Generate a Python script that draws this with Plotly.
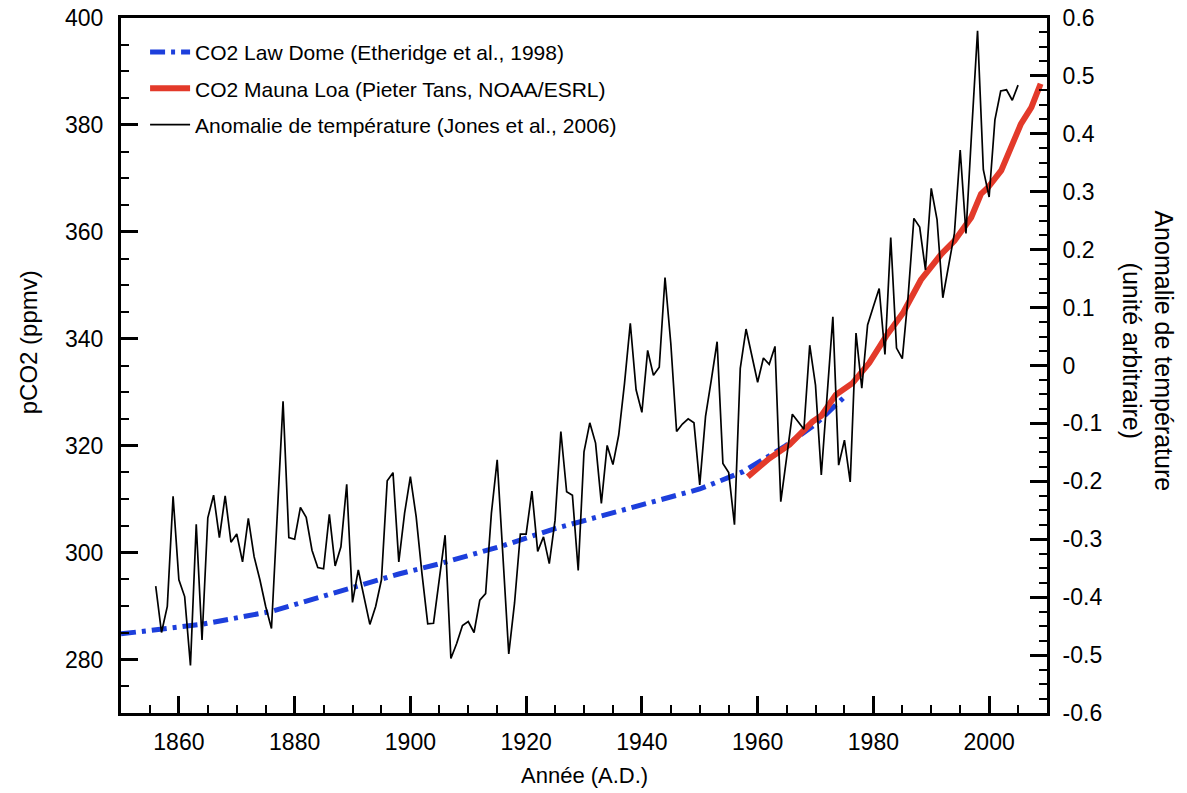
import plotly.graph_objects as go
from plotly.subplots import make_subplots

# ---- Data ----
# Law Dome CO2 (ppmv)
law_years = [1850, 1864, 1876, 1890, 1893, 1898, 1905, 1916, 1925, 1933, 1937.5, 1950, 1957.4, 1964.6, 1970, 1973.6, 1975]
law_co2 = [284.8, 286.6, 289.0, 293.3, 294.3, 296.0, 297.9, 301.3, 304.5, 307.0, 308.2, 311.9, 315.1, 319.8, 324.0, 327.7, 329.1]

# Mauna Loa CO2 (ppmv)
ml_years = [1958.3, 1962.0, 1965.5, 1969.5, 1971.0, 1973.5, 1976.4, 1979.3, 1982.2, 1985.1, 1988.2,
            1991.7, 1994.0, 1996.9, 1998.6, 1999.8, 2002.1, 2003.8, 2005.5, 2007.3, 2008.9]
ml_co2 = [314.2, 317.6, 320.2, 324.5, 325.6, 329.5, 331.7, 335.5, 340.5, 344.8, 351.0,
          355.8, 358.3, 362.7, 367.1, 368.3, 371.5, 375.8, 380.2, 383.3, 387.7]

# Temperature anomaly (arbitrary units), 1856-2005
temp_years = list(range(1856, 2006))
temp_anom = [
    -0.381, -0.461, -0.416, -0.226, -0.370, -0.399, -0.518, -0.274, -0.474, -0.263,  # 1856-1865
    -0.224, -0.297, -0.225, -0.305, -0.291, -0.339, -0.264, -0.330, -0.370, -0.416,  # 1866-1875
    -0.454, -0.250, -0.062, -0.297, -0.300, -0.245, -0.262, -0.319, -0.349, -0.351,  # 1876-1885
    -0.257, -0.346, -0.313, -0.205, -0.409, -0.353, -0.402, -0.447, -0.416, -0.370,  # 1886-1895
    -0.199, -0.185, -0.339, -0.255, -0.192, -0.261, -0.359, -0.446, -0.445, -0.370,  # 1896-1905
    -0.293, -0.506, -0.480, -0.449, -0.442, -0.461, -0.405, -0.394, -0.255, -0.163,  # 1906-1915
    -0.336, -0.498, -0.410, -0.291, -0.291, -0.217, -0.321, -0.296, -0.342, -0.267,  # 1916-1925
    -0.114, -0.218, -0.224, -0.354, -0.149, -0.099, -0.134, -0.238, -0.138, -0.171,  # 1926-1935
    -0.120, -0.031, 0.073, -0.042, -0.081, 0.026, -0.017, -0.003, 0.152, 0.038,      # 1936-1945
    -0.114, -0.101, -0.092, -0.099, -0.206, -0.088, -0.025, 0.041, -0.169, -0.185,   # 1946-1955
    -0.275, -0.005, 0.063, 0.016, -0.029, 0.013, 0.002, 0.033, -0.235, -0.160,       # 1956-1965
    -0.084, -0.097, -0.110, 0.035, -0.034, -0.189, -0.054, 0.084, -0.172, -0.129,    # 1966-1975
    -0.201, 0.056, -0.039, 0.070, 0.102, 0.133, 0.019, 0.221, 0.030, 0.012,          # 1976-1985
    0.119, 0.254, 0.239, 0.165, 0.306, 0.252, 0.117, 0.171, 0.228, 0.372,            # 1986-1995
    0.228, 0.407, 0.578, 0.338, 0.291, 0.424, 0.474, 0.476, 0.458, 0.484,            # 1996-2005
]

x_ticks = [1860, 1880, 1900, 1920, 1940, 1960, 1980, 2000]
y1_ticks = [280, 300, 320, 340, 360, 380, 400]
y2_ticks = [-0.6, -0.5, -0.4, -0.3, -0.2, -0.1, 0, 0.1, 0.2, 0.3, 0.4, 0.5, 0.6]
y2_text = ["-0.6", "-0.5", "-0.4", "-0.3", "-0.2", "-0.1", "0", "0.1", "0.2", "0.3", "0.4", "0.5", "0.6"]

FONT = "Liberation Sans, Arial, Helvetica, sans-serif"
BLUE = "#1d3fdc"
RED = "#e33a2a"

fig = make_subplots(specs=[[{"secondary_y": True}]])

fig.add_trace(go.Scatter(x=law_years, y=law_co2, mode="lines",
                         name="CO2 Law Dome (Etheridge et al., 1998)", legendgroup="a",
                         line=dict(color=BLUE, width=5, dash="15px,6px,4px,6px")),
              secondary_y=False)
fig.add_trace(go.Scatter(x=ml_years, y=ml_co2, mode="lines",
                         name="CO2 Mauna Loa (Pieter Tans, NOAA/ESRL)", legendgroup="b",
                         line=dict(color=RED, width=6)),
              secondary_y=False)
fig.add_trace(go.Scatter(x=temp_years, y=temp_anom, mode="lines",
                         name="Anomalie de température (Jones et al., 2006)", legendgroup="c",
                         line=dict(color="black", width=1.7)),
              secondary_y=True)

axis_common = dict(showgrid=False, zeroline=False, showline=True, linecolor="black", linewidth=3,
                   ticks="inside", ticklen=17, tickwidth=3, tickcolor="black", automargin=False,
                   tickfont=dict(family=FONT, size=23, color="black"))

fig.update_xaxes(range=[1850, 2010], domain=[0, 1], tickmode="array", tickvals=x_ticks, mirror=True,
                 minor=dict(ticks="inside", dtick=5, tick0=1850, ticklen=8, tickwidth=2, tickcolor="black"),
                 ticklabelstandoff=6, **axis_common)
fig.update_yaxes(range=[270, 400], tickmode="array", tickvals=y1_ticks,
                 minor=dict(ticks="inside", dtick=5, tick0=270, ticklen=8, tickwidth=2, tickcolor="black"),
                 ticklabelstandoff=10, secondary_y=False, **axis_common)
fig.update_yaxes(range=[-0.6, 0.6], tickmode="array", tickvals=y2_ticks, ticktext=y2_text,
                 minor=dict(ticks="inside", dtick=0.025, tick0=-0.6, ticklen=8, tickwidth=2, tickcolor="black"),
                 ticklabelstandoff=8, secondary_y=True, **axis_common)

fig.update_layout(
    width=1187, height=793,
    margin=dict(l=121, r=140, t=18, b=80, autoexpand=False),
    paper_bgcolor="white", plot_bgcolor="white",
    font=dict(family=FONT, color="black"),
    showlegend=True,
    legend=dict(x=0.026, y=0.98, xanchor="left", yanchor="top",
                font=dict(family=FONT, size=21, color="black"),
                bgcolor="rgba(0,0,0,0)", traceorder="grouped", tracegroupgap=6,
                itemwidth=40),
    annotations=[
        dict(text="pCO2 (ppmv)", xref="paper", yref="paper", x=-0.1, y=0.534,
             xanchor="center", yanchor="middle", textangle=-90, showarrow=False,
             font=dict(family=FONT, size=24, color="black")),
        dict(text="Anomalie de température<br>(unité arbitraire)", xref="paper", yref="paper",
             x=1.1085, y=0.521, xanchor="center", yanchor="middle", textangle=90, showarrow=False,
             font=dict(family=FONT, size=25, color="black")),
        dict(text="Année (A.D.)", xref="paper", yref="paper", x=0.5, y=-0.09,
             xanchor="center", yanchor="middle", showarrow=False,
             font=dict(family=FONT, size=22, color="black")),
    ],
)

fig.write_html("out.html")
